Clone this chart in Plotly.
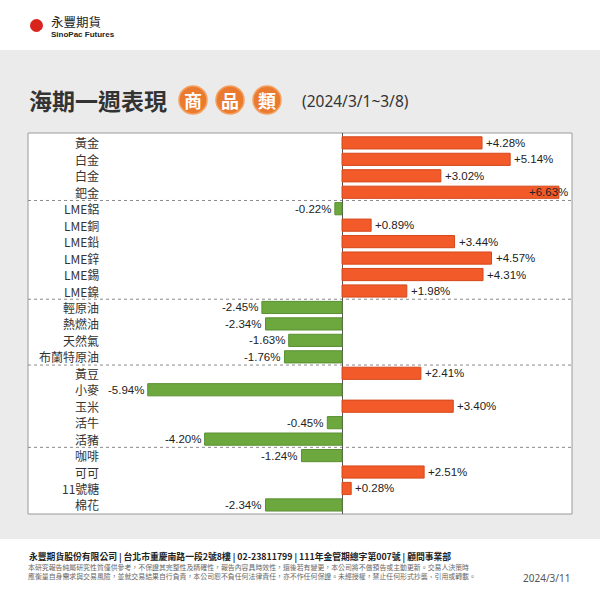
import plotly.graph_objects as go

names = ["黃金", "白金", "白金", "鈀金",
         "LME鋁", "LME銅", "LME鉛", "LME鋅", "LME錫", "LME鎳",
         "輕原油", "熱燃油", "天然氣", "布蘭特原油",
         "黃豆", "小麥", "玉米", "活牛", "活豬",
         "咖啡", "可可", "11號糖", "棉花"]
values = [4.28, 5.14, 3.02, 6.63,
          -0.22, 0.89, 3.44, 4.57, 4.31, 1.98,
          -2.45, -2.34, -1.63, -1.76,
          2.41, -5.94, 3.40, -0.45, -4.20,
          -1.24, 2.51, 0.28, -2.34]
group_sizes = [4, 6, 4, 5, 4]

W, H = 600, 600
L, R, T, B = 28, 28, 133, 86
PW, PH = W - L - R, H - T - B

def px(x):
    return (x - L) / PW

def py(y):
    return (H - B - y) / PH

CJK = "Noto Sans CJK TC"
LAT = "Liberation Sans, Arial"

ORANGE = "#F25A29"
ORANGE_E = "#D4481C"
GREEN = "#6CA83E"
GREEN_E = "#5A8F32"

idx = list(range(len(names)))
colors = [ORANGE if v >= 0 else GREEN for v in values]
edges = [ORANGE_E if v >= 0 else GREEN_E for v in values]

fig = go.Figure()
fig.add_trace(go.Bar(
    x=values, y=idx, orientation="h",
    marker=dict(color=colors, line=dict(color=edges, width=1)),
    width=0.74, hoverinfo="skip",
))

XMIN, XMAX = -9.6, 7.03
shapes = []
# gray panel
shapes.append(dict(type="rect", xref="paper", yref="paper",
                   x0=px(0), x1=px(600), y0=py(50), y1=py(539),
                   fillcolor="#EBEBEB", line=dict(width=0), layer="below"))
# white chart box
shapes.append(dict(type="rect", xref="paper", yref="paper",
                   x0=0, x1=1, y0=0, y1=1,
                   fillcolor="white", line=dict(color="#9A9A9A", width=1), layer="below"))
# group separators
pos = 0
for g in group_sizes[:-1]:
    pos += g
    shapes.append(dict(type="line", xref="paper", yref="y",
                       x0=0, x1=1, y0=pos - 0.5, y1=pos - 0.5,
                       line=dict(color="#8A8A8A", width=1, dash="dot"), layer="below"))
# logo circle
shapes.append(dict(type="circle", xref="paper", yref="paper",
                   x0=px(30), x1=px(43), y0=py(32), y1=py(19),
                   fillcolor="#D9241C", line=dict(width=0)))
# title circles
for cx in [193, 230, 267]:
    shapes.append(dict(type="circle", xref="paper", yref="paper",
                       x0=px(cx - 14), x1=px(cx + 14), y0=py(100 + 14), y1=py(100 - 14),
                       fillcolor="#EA7A2E", line=dict(color="#F4A060", width=1.5)))

ann = []
for i, (n, v) in enumerate(zip(names, values)):
    ann.append(dict(x=px(100), y=i, xref="paper", yref="y", text=n,
                    xanchor="right", yanchor="middle", showarrow=False, borderpad=0,
                    font=dict(family=CJK, size=12, color="#333333")))
    label = f"{v:+.2f}%"
    if v >= 0:
        if v > 6.0:
            ann.append(dict(x=XMAX, y=i, xref="x", yref="y", text=label, xanchor="right",
                            xshift=-3, yanchor="middle", showarrow=False, borderpad=0,
                            font=dict(family=LAT, size=11.5, color="#222222")))
        else:
            ann.append(dict(x=v, y=i, xref="x", yref="y", text=label, xanchor="left",
                            xshift=3, yanchor="middle", showarrow=False, borderpad=0,
                            font=dict(family=LAT, size=11.5, color="#222222")))
    else:
        ann.append(dict(x=v, y=i, xref="x", yref="y", text=label, xanchor="right",
                        xshift=-3, yanchor="middle", showarrow=False, borderpad=0,
                        font=dict(family=LAT, size=11.5, color="#222222")))

# logo text
ann.append(dict(x=px(36.5), y=py(25.5), xref="paper", yref="paper", text="<b>予</b>",
                showarrow=False, font=dict(family=CJK, size=8, color="white")))
ann.append(dict(x=px(49), y=py(21), xref="paper", yref="paper", text="永豐期貨",
                xanchor="left", yanchor="middle", showarrow=False,
                font=dict(family=CJK, size=12.5, color="#222222")))
ann.append(dict(x=px(49), y=py(34), xref="paper", yref="paper", text="<b>SinoPac Futures</b>",
                xanchor="left", yanchor="middle", showarrow=False,
                font=dict(family=LAT, size=8, color="#222222")))
# title
ann.append(dict(x=px(27), y=py(100), xref="paper", yref="paper", text="<b>海期一週表現</b>",
                xanchor="left", yanchor="middle", showarrow=False,
                font=dict(family=CJK, size=23, color="#333333")))
for cx, ch in zip([193, 230, 267], ["商", "品", "類"]):
    ann.append(dict(x=px(cx), y=py(100), xref="paper", yref="paper", text=f"<b>{ch}</b>",
                    xanchor="center", yanchor="middle", showarrow=False,
                    font=dict(family=CJK, size=18, color="white")))
ann.append(dict(x=px(300), y=py(101), xref="paper", yref="paper", text="(2024/3/1~3/8)",
                xanchor="left", yanchor="middle", showarrow=False,
                font=dict(family="Noto Sans", size=15.5, color="#333333")))
# footer
ann.append(dict(x=px(27), y=py(556), xref="paper", yref="paper",
                text="<b>永豐期貨股份有限公司 | 台北市重慶南路一段2號8樓 | 02-23811799 | 111年金管期總字第007號 | 顧問事業部</b>",
                xanchor="left", yanchor="middle", showarrow=False,
                font=dict(family=CJK, size=8.8, color="#222222")))
ann.append(dict(x=px(27), y=py(567), xref="paper", yref="paper",
                text="本研究報告純屬研究性質僅供參考，不保證其完整性及精確性，報告內容具時效性，還後若有變更，本公司將不做預告或主動更新。交易人決策時",
                xanchor="left", yanchor="middle", showarrow=False, borderpad=0,
                font=dict(family=CJK, size=6.9, color="#666666")))
ann.append(dict(x=px(27), y=py(576), xref="paper", yref="paper",
                text="應衡量自身需求與交易風險，並就交易結果自行負責，本公司恕不負任何法律責任，亦不作任何保證。未經授權，禁止任何形式抄襲、引用或轉載。",
                xanchor="left", yanchor="middle", showarrow=False, borderpad=0,
                font=dict(family=CJK, size=6.9, color="#666666")))
ann.append(dict(x=px(572), y=py(578), xref="paper", yref="paper", text="2024/3/11",
                xanchor="right", yanchor="middle", showarrow=False,
                font=dict(family="Noto Sans", size=10, color="#555555")))

fig.update_layout(
    width=W, height=H,
    margin=dict(l=L, r=R, t=T, b=B),
    paper_bgcolor="white", plot_bgcolor="rgba(0,0,0,0)",
    showlegend=False,
    xaxis=dict(range=[XMIN, XMAX], showgrid=False, showticklabels=False, ticks="",
               zeroline=True, zerolinecolor="#555555", zerolinewidth=1, fixedrange=True),
    yaxis=dict(range=[22.55, -0.6], showgrid=False, showticklabels=False, ticks="",
               zeroline=False, fixedrange=True),
    shapes=shapes, annotations=ann,
)

fig.write_html("out.html", config={"displayModeBar": False},
               post_script="document.body.style.margin='0';document.body.style.overflow='hidden';")
